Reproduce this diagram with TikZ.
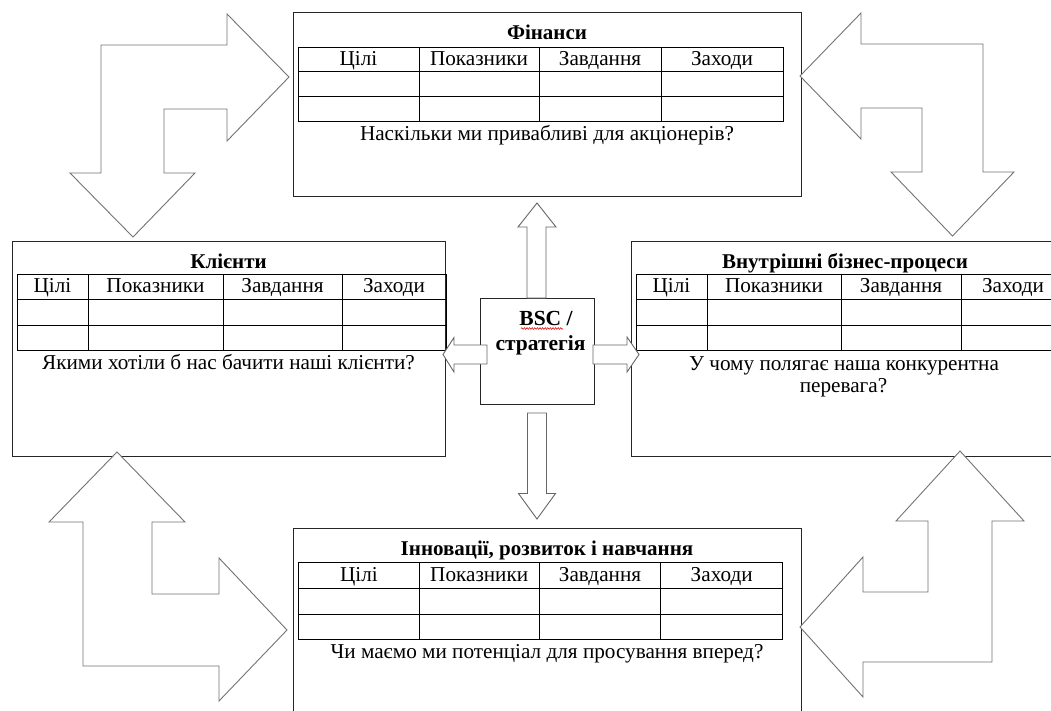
\documentclass[tikz,border=0pt]{standalone}
\usepackage{fontspec}
\setmainfont{Liberation Serif}
\usetikzlibrary{decorations.pathmorphing}
\newcommand\mytablegrid[9]{%
  \draw[tbl] (#1,#6) rectangle (#5,#9);
  \draw[tbl] (#1,#7) -- (#5,#7) (#1,#8) -- (#5,#8)
             (#2,#6) -- (#2,#9) (#3,#6) -- (#3,#9) (#4,#6) -- (#4,#9);}
\newcommand\myheads[6]{%
  \node[cell] (#1h1) at (#2,#6) {Цілі};
  \node[cell] (#1h2) at (#3,#6) {Показники};
  \node[cell] (#1h3) at (#4,#6) {Завдання};
  \node[cell] (#1h4) at (#5,#6) {Заходи};}
\begin{document}
\begin{tikzpicture}[x=1pt,y=-1pt,
  panel/.style={draw=black!85, line width=1pt, fill=white, inner sep=0pt, outer sep=0pt},
  tbl/.style={draw=black, line width=1pt},
  txt/.style={inner sep=0pt, anchor=base, font=\fontsize{21.2}{24}\selectfont},
  cell/.style={txt},
  ttl/.style={txt, font=\bfseries\fontsize{21}{24}\selectfont},
  bigarrow/.style={draw=black!55, line width=0.9pt, fill=white, line join=miter},
  smallarrow/.style={draw=black!60, line width=0.9pt, fill=white, line join=miter}]
\useasboundingbox (0,0) rectangle (1051,710);
\clip (0,0) rectangle (1051,710);
\fill[white] (0,0) rectangle (1051,710);

% panels
\node[panel, minimum width=508pt, minimum height=184pt] (fin) at (547,104) {};
\node[panel, minimum width=433pt, minimum height=215pt] (cli) at (228.5,348.5) {};
\node[panel, minimum width=433pt, minimum height=215pt] (proc) at (847.5,348.5) {};
\node[panel, minimum width=508pt, minimum height=184pt] (inn) at (547,620.4) {};
\node[panel, minimum width=114pt, minimum height=106pt] (bsc) at (537,351) {};

% Finance
\node[ttl] (fint) at (547,39.3) {Фінанси};
\mytablegrid{298}{419}{539}{661}{783}{47}{71}{96}{121}
\myheads{fin}{358.5}{479}{600}{722}{65}
\node[txt] (finq) at (547,140) {Наскільки ми привабливі для акціонерів?};

% Clients
\node[ttl] (clit) at (228.5,268.3) {Клієнти};
\mytablegrid{17}{88}{223}{342}{446}{274}{299}{325}{350}
\myheads{cli}{52.5}{155.5}{282.5}{394}{292.5}
\node[txt] (cliq) at (228.5,369.3) {Якими хотіли б нас бачити наші клієнти?};

% Internal processes
\node[ttl] (proct) at (845,268.3) {Внутрішні бізнес-процеси};
\mytablegrid{636}{707}{841}{961}{1065}{274}{299}{325}{350}
\myheads{proc}{671.5}{774}{901}{1013}{292.5}
\node[txt] (procq1) at (844,370) {У чому полягає наша конкурентна};
\node[txt] (procq2) at (843.5,392.3) {перевага?};

% Innovation
\node[ttl] (innt) at (547,555.5) {Інновації, розвиток і навчання};
\mytablegrid{298.6}{419.2}{539.2}{660.9}{782.5}{562.6}{588.6}{614}{639.3}
\myheads{inn}{359}{479.2}{600}{721.7}{581}
\node[txt] (innq) at (547,658.5) {Чи маємо ми потенціал для просування вперед?};

% BSC text
\node[txt, font=\bfseries\fontsize{21.5}{25}\selectfont] (bsc1) at (546,325) {BSC /};
\node[txt, font=\bfseries\fontsize{21.5}{25}\selectfont] (bsc2) at (540.5,350) {стратегія};
\draw[red!85!black, line width=0.5pt, decorate, decoration={snake, amplitude=0.9pt, segment length=2.6pt}]
  (521,328.5) -- (563,328.5);

% big bent arrows
\draw[bigarrow] (289,77) -- (227,14) -- (227,45) -- (101,45) -- (101,173) -- (70,173)
  -- (133,237) -- (195,173) -- (164,173) -- (164,109) -- (227,109) -- (227,141) -- cycle;
\draw[bigarrow] (800,76) -- (861,13) -- (861,44) -- (983,44) -- (983,172) -- (1014,172)
  -- (952.5,236) -- (891,172) -- (922,172) -- (922,108) -- (861,108) -- (861,139) -- cycle;
\draw[bigarrow] (117,452) -- (185,522) -- (152,522) -- (152,594) -- (219,594) -- (219,558)
  -- (287,630) -- (219,701) -- (219,666) -- (83,666) -- (83,522) -- (49,522) -- cycle;
\draw[bigarrow] (960,451) -- (1024,521) -- (992,521) -- (992,662) -- (863,662) -- (863,697)
  -- (800,627) -- (863,557) -- (863,592) -- (928,592) -- (928,521) -- (896,521) -- cycle;

% small arrows around BSC
\draw[smallarrow] (527,298) -- (527,227) -- (518,227) -- (537,203) -- (556,227) -- (546,227) -- (546,298) -- cycle;
\draw[smallarrow] (527.5,413) -- (546.5,413) -- (546.5,493.5) -- (555.5,493.5) -- (537,519) -- (518.5,493.5) -- (527.5,493.5) -- cycle;
\draw[smallarrow] (487,345) -- (454,345) -- (454,337.5) -- (443,354.5) -- (454,372) -- (454,364) -- (487,364) -- cycle;
\draw[smallarrow] (593,345) -- (627,345) -- (627,337) -- (639,354.5) -- (627,372) -- (627,364) -- (593,364) -- cycle;
\end{tikzpicture}
\end{document}
